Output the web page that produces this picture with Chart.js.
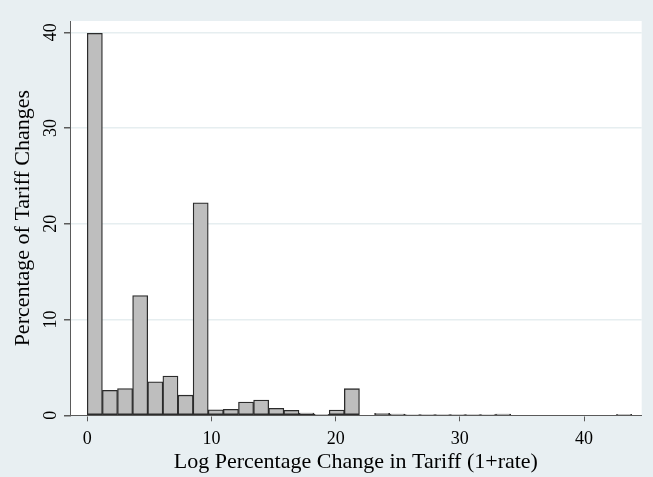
<!DOCTYPE html>
<html lang="en">
<head>
    <meta charset="UTF-8">
    <title>Log Percentage Change in Tariff</title>
    <script src="https://cdn.jsdelivr.net/npm/chart.js"></script>
    <style>
        body {
            margin: 0;
            background-color: #e8eff2;
        }

        .chart-container {
            position: relative;
            width: 653px;
            height: 477px;
        }
    </style>
</head>
<body>

    <div class="chart-container">
        <canvas id="tariffHist" width="653" height="477"></canvas>
    </div>

    <script>
        // Histogram bins: 36 equal bins starting at 0
        const binStart = 0;
        const binWidth = 1.2175;
        const binPercent = [
            39.9, 2.6, 2.8, 12.5, 3.5, 4.1, 2.1, 22.2,
            0.58, 0.62, 1.39, 1.6, 0.73, 0.52, 0.24, 0.1,
            0.55, 2.78, 0, 0.21, 0.14, 0.06, 0.02, 0.02,
            0.02, 0.02, 0.06, 0.14, 0, 0, 0, 0,
            0, 0, 0, 0.1
        ];
        const xTicks = [0, 10, 20, 30, 40];
        const yTicks = [0, 10, 20, 30, 40];

        const serif = "'Liberation Serif', 'DejaVu Serif', serif";
        const axisColor = '#5a5a5a';

        const points = binPercent.map((v, i) => ({
            x: binStart + (i + 0.5) * binWidth,
            y: v
        }));

        // White plot region on the tinted graph region
        const plotRegion = {
            id: 'plotRegion',
            beforeDraw(chart) {
                const { ctx, chartArea } = chart;
                ctx.save();
                ctx.fillStyle = '#e8eff2';
                ctx.fillRect(0, 0, chart.width, chart.height);
                ctx.fillStyle = '#ffffff';
                ctx.fillRect(chartArea.left, chartArea.top,
                    chartArea.right - chartArea.left, chartArea.bottom - chartArea.top);
                ctx.restore();
            }
        };

        // Vertical y tick labels
        const rotatedYLabels = {
            id: 'rotatedYLabels',
            afterDraw(chart) {
                const { ctx } = chart;
                const y = chart.scales.y;
                ctx.save();
                ctx.fillStyle = '#000';
                ctx.font = "18px " + serif;
                ctx.textAlign = 'center';
                ctx.textBaseline = 'middle';
                yTicks.forEach(v => {
                    ctx.save();
                    ctx.translate(51, y.getPixelForValue(v));
                    ctx.rotate(-Math.PI / 2);
                    ctx.fillText(String(v), 0, 0);
                    ctx.restore();
                });
                ctx.restore();
            }
        };

        const ctx = document.getElementById('tariffHist').getContext('2d');

        const tariffHist = new Chart(ctx, {
            type: 'bar',
            data: {
                datasets: [{
                    data: points,
                    backgroundColor: '#bebebe',
                    borderColor: '#2b2b2b',
                    borderWidth: 1.3,
                    borderSkipped: false,
                    barPercentage: 1,
                    categoryPercentage: 1
                }]
            },
            options: {
                responsive: false,
                animation: false,
                layout: {
                    padding: { top: 21, right: 11.3, left: 0, bottom: 0 }
                },
                plugins: {
                    legend: { display: false },
                    tooltip: { enabled: false }
                },
                scales: {
                    x: {
                        type: 'linear',
                        offset: false,
                        min: -1.39,
                        max: 44.64,
                        afterBuildTicks: axis => {
                            axis.ticks = xTicks.map(v => ({ value: v }));
                        },
                        afterFit: scale => { scale.height = 61.7; },
                        grid: {
                            offset: false,
                            drawOnChartArea: false,
                            tickLength: 6,
                            tickColor: axisColor
                        },
                        border: { color: axisColor, width: 1 },
                        ticks: {
                            color: '#000',
                            font: { family: serif, size: 18 },
                            padding: 7,
                            maxRotation: 0
                        },
                        title: {
                            display: true,
                            text: 'Log Percentage Change in Tariff (1+rate)',
                            color: '#000',
                            font: { family: serif, size: 22 },
                            padding: { top: 0, bottom: 2 }
                        }
                    },
                    y: {
                        min: 0,
                        max: 41.18,
                        afterBuildTicks: axis => {
                            axis.ticks = yTicks.map(v => ({ value: v }));
                        },
                        afterFit: scale => { scale.width = 70; },
                        grid: {
                            color: '#e6eef0',
                            lineWidth: 1.5,
                            tickLength: 6,
                            tickColor: axisColor
                        },
                        border: { color: axisColor, width: 1 },
                        ticks: {
                            color: 'rgba(0,0,0,0)',
                            font: { family: serif, size: 18 }
                        },
                        title: {
                            display: true,
                            text: 'Percentage of Tariff Changes',
                            color: '#000',
                            font: { family: serif, size: 22 },
                            padding: { top: 10, bottom: 0 }
                        }
                    }
                }
            },
            plugins: [plotRegion, rotatedYLabels]
        });
    </script>

</body>
</html>
